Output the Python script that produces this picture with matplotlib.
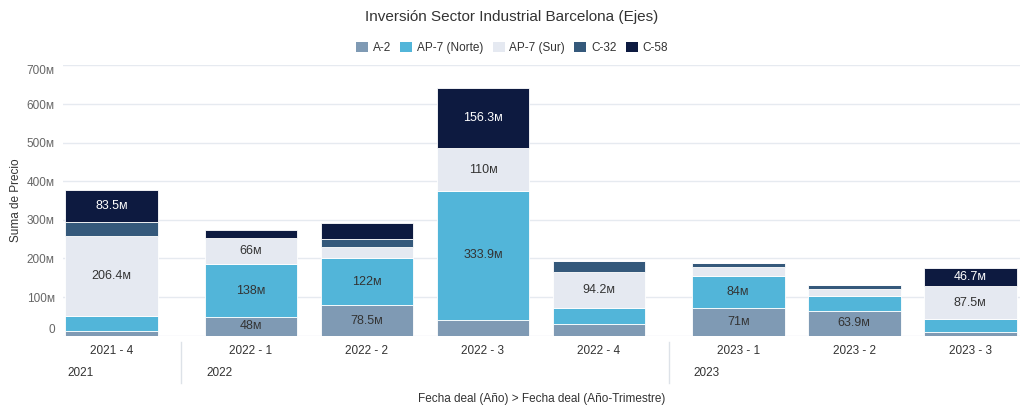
import matplotlib
matplotlib.use("Agg")
import matplotlib.pyplot as plt
from matplotlib.patches import Patch
import matplotlib.transforms as mtransforms
import numpy as np

plt.rcParams['font.family'] = ['Liberation Sans', 'DejaVu Sans']

quarters = ["2021 - 4", "2022 - 1", "2022 - 2", "2022 - 3", "2022 - 4", "2023 - 1", "2023 - 2", "2023 - 3"]
years = ["2021", "2022", "2023"]
year_of_quarter = [0, 1, 1, 1, 1, 2, 2, 2]
series = ["A-2", "AP-7 (Norte)", "AP-7 (Sur)", "C-32", "C-58"]
a2 = [13, 48, 78.5, 41, 30, 71, 63.9, 9]
ap7_norte = [39, 138, 122, 333.9, 42, 84, 38, 33]
ap7_sur = [206.4, 66, 30, 110, 94.2, 22, 20, 87.5]
c32 = [36, 0, 19, 0, 26, 12, 9, 0]
c58 = [83.5, 21, 42, 156.3, 0, 0, 0, 46.7]
yticks = [0, 100, 200, 300, 400, 500, 600, 700]

values = [a2, ap7_norte, ap7_sur, c32, c58]
colors = ["#7f9ab4", "#52b5d9", "#e5e9f1", "#35597b", "#0d1a40"]
text_colors = ["#333333", "#333333", "#333333", "#ffffff", "#ffffff"]

# x positions: extra gap between years
pos = []
x = 0.0
for i in range(len(quarters)):
    if i > 0:
        x += 1.0 + (0.2 if year_of_quarter[i] != year_of_quarter[i - 1] else 0.0)
    pos.append(x)
pos = np.array(pos)

fig = plt.figure(figsize=(10.24, 4.17), dpi=100)
ax = fig.add_axes([63 / 1024, 1 - 335.7 / 417, (1019.5 - 63) / 1024, (335.7 - 65) / 417])

bottom = np.zeros(len(quarters))
for vals, col, tcol, name in zip(values, colors, text_colors, series):
    v = np.array(vals, dtype=float)
    ax.bar(pos, v, width=0.8, bottom=bottom, color=col, edgecolor="#ffffff",
           linewidth=0.6, label=name, zorder=3)
    for xi, b, vi in zip(pos, bottom, v):
        if vi >= 45:
            ax.text(xi, b + vi / 2, f"{vi:g}м", ha="center", va="center",
                    fontsize=9, color=tcol, zorder=4)
    bottom += v

ax.set_xlim(pos[0] - 0.42, pos[-1] + 0.425)
ax.set_ylim(0, 701)
ax.set_yticks(yticks)
ax.set_yticklabels([("0" if t == 0 else f"{t}м") for t in yticks])
ax.tick_params(axis="y", length=0, labelsize=8.5, labelcolor="#666666", pad=6)
ax.grid(axis="y", color="#e6eaf0", linewidth=1, zorder=0)
for s in ax.spines.values():
    s.set_visible(False)
ax.set_xticks([])
lbls = ax.get_yticklabels()
lbls[0].set_va("bottom")
lbls[-1].set_va("top")

trans = mtransforms.blended_transform_factory(ax.transData, ax.transAxes)
h = 335.7 - 65
def yfrac(py):
    return (335.7 - py) / h

for xi, q in zip(pos, quarters):
    ax.text(xi, yfrac(351), q, transform=trans, ha="center", va="center",
            fontsize=8.5, color="#333333", clip_on=False)

# year labels and separators
for yi, yname in enumerate(years):
    idx = [i for i, yq in enumerate(year_of_quarter) if yq == yi]
    first = idx[0]
    ax.text(pos[first] - 0.385, yfrac(373), yname, transform=trans, ha="left", va="center",
            fontsize=8.5, color="#333333", clip_on=False)
    if first > 0:
        sep = (pos[first] + pos[first - 1]) / 2
        ax.plot([sep, sep], [yfrac(342), yfrac(383)], transform=trans, color="#dde2e8",
                linewidth=1, clip_on=False)

fig.text((63 + 1019.5) / 2 / 1024, 1 - 399 / 417, "Fecha deal (Año) > Fecha deal (Año-Trimestre)",
         ha="center", va="center", fontsize=8.5, color="#333333")
fig.text(16 / 1024, 1 - 200 / 417, "Suma de Precio", rotation=90, ha="center", va="center",
         fontsize=8.5, color="#333333")
fig.text(512 / 1024, 1 - 17 / 417, "Inversión Sector Industrial Barcelona (Ejes)",
         ha="center", va="center", fontsize=11, color="#333333")

handles = [Patch(facecolor=c, edgecolor="none", label=n) for c, n in zip(colors, series)]
fig.legend(handles=handles, loc="center", bbox_to_anchor=(512 / 1024, 1 - 48 / 417), ncol=5,
           frameon=False, fontsize=8.5, handlelength=1.0, handleheight=1.0,
           handletextpad=0.4, columnspacing=0.8, labelcolor="#333333")

fig.savefig("out.png", dpi=100, facecolor="white")
